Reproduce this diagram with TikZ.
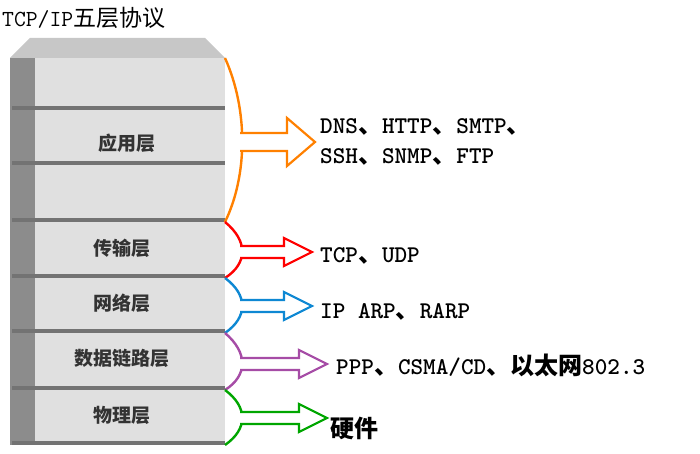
\documentclass[tikz,border=0pt]{standalone}
\usepackage{fontspec}
\newfontfamily\cjk{Noto Sans CJK SC}
\begin{document}
\begin{tikzpicture}[x=1pt,y=-1pt,
  lbl/.style={font=\cjk\bfseries\fontsize{19}{19}\selectfont,text=black!80},
  txt/.style={font=\ttfamily\bfseries\fontsize{24}{30}\selectfont,anchor=west,align=left},
  brace/.style={line width=2.4pt}]
\useasboundingbox (0,0) rectangle (700,454);
\node[font=\ttfamily\fontsize{23}{23}\selectfont,anchor=west,inner sep=0pt] (title) at (2,18) {TCP/IP{\cjk 五层协议}};
% top face
\fill[black!22] (10,58) -- (30,38) -- (205,38) -- (225,58) -- cycle;
% left side
\fill[black!45] (10,58) -- (35,58) -- (35,445) -- (10,445) -- cycle;
\foreach \a/\b in {58/110,110/165,165/222,222/278,278/333,333/390,390/445}{
  \fill[black!12] (35,\a) rectangle (225,\b);
  \fill[black!55] (12,\b-4) rectangle (225,\b);
}
\node[lbl] (l1) at (127,143) {应用层};
\node[lbl] (l2) at (122,248) {传输层};
\node[lbl] (l3) at (122,303) {网络层};
\node[lbl] (l4) at (122,358) {数据链路层};
\node[lbl] (l5) at (122,415) {物理层};
% braces and arrows
\foreach \t/\b/\c/\col/\sh/\hd/\tip in {58/222/142/orange/9/24/315, 222/278/252/red/6/14/312, 278/333/306/cyan!70!blue/6/14/312, 333/390/364/violet!70/6/14/327, 390/445/418/green!65!black/6/14/327}{
  \pgfmathsetmacro{\ua}{\c-(\b-\t)/5}
  \pgfmathsetmacro{\ub}{\c+(\b-\t)/5}
  \draw[brace,draw=\col] (225,\t) .. controls (248,\ua) and (248,\ub) .. (225,\b);
  \draw[line width=2.2pt,draw=\col,fill=white,line join=miter]
    (240,\c-\sh) -- (\tip-28,\c-\sh) -- (\tip-28,\c-\hd) -- (\tip,\c) -- (\tip-28,\c+\hd) -- (\tip-28,\c+\sh) -- (240,\c+\sh);
}
\node[txt,inner sep=0pt] (t1) at (320,142) {DNS{\cjk 、}HTTP{\cjk 、}SMTP{\cjk 、}\\SSH{\cjk 、}SNMP{\cjk 、}FTP};
\node[txt,inner sep=0pt] (t2) at (320,256) {TCP{\cjk 、}UDP};
\node[txt,inner sep=0pt] (t3) at (320,312) {IP  ARP{\cjk 、}RARP};
\node[txt,inner sep=0pt] (t4) at (336,365) {PPP{\cjk 、}CSMA/CD{\cjk 、以太网}802.3};
\node[txt,inner sep=0pt] (t5) at (330,428) {\cjk 硬件};
\end{tikzpicture}
\end{document}
